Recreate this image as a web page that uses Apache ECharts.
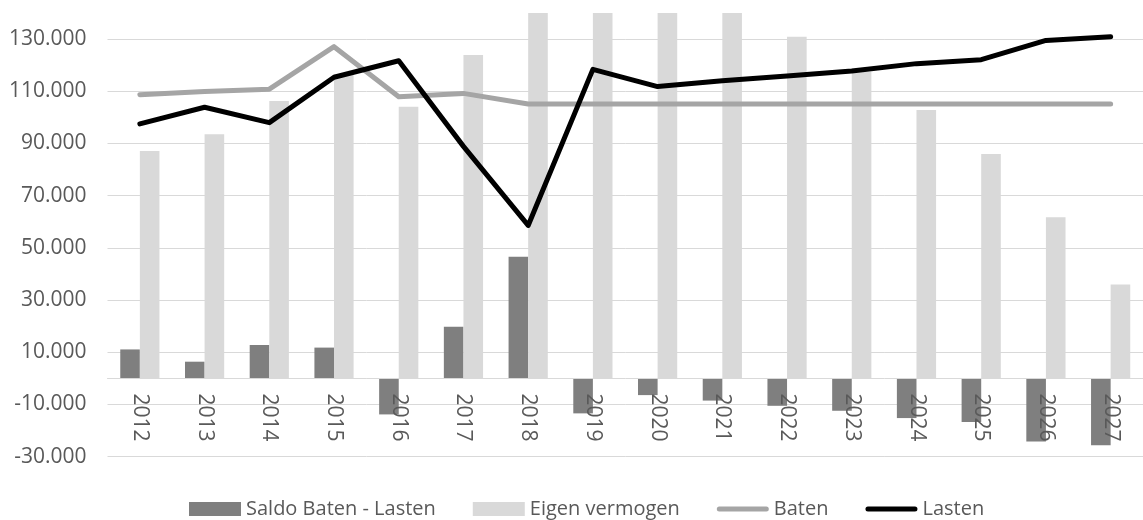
<!DOCTYPE html>
<html lang="nl">
<head>
    <meta charset="UTF-8">
    <title>Baten en lasten</title>
    <style>
        *{
            margin: 0;
            padding: 0;
        }
        html, body{
            background: #ffffff;
        }
        .main{
            width: 1143px;
            height: 520px;
        }
    </style>
    <script src="https://cdn.jsdelivr.net/npm/echarts@6/dist/echarts.min.js"></script>
</head>
<body>
<div class="main"></div>
<script>
    // jaren en reeksen
    let years = ['2012','2013','2014','2015','2016','2017','2018','2019','2020','2021','2022','2023','2024','2025','2026','2027'];
    let saldo = [11100, 6400, 12800, 11800, -13800, 19800, 46600, -13400, -6400, -8500, -10500, -12400, -15200, -16700, -24200, -25600];
    let eigenVermogen = [87100, 93500, 106300, 116500, 104100, 123900, 170500, 157100, 150700, 142200, 130900, 117500, 102800, 86000, 61700, 36000];
    let baten = [108700, 109900, 110800, 127100, 107900, 109200, 105100, 105100, 105100, 105100, 105100, 105100, 105100, 105100, 105100, 105100];
    let lasten = [97500, 103900, 98000, 115400, 121700, 88900, 58600, 118400, 111800, 114000, 115900, 117800, 120600, 122100, 129500, 130900];

    let textColor = '#595959';
    let font = '"Open Sans", "Liberation Sans", sans-serif';
    let yMin = -30000, yMax = 140000;
    let gridTop = 13, gridHeight = 443.7;

    // 130000 -> 130.000
    function fmt(v){
        let s = Math.abs(v).toString().replace(/\B(?=(\d{3})+(?!\d))/g, '.');
        return (v < 0 ? '-' : '') + s;
    }

    let main = document.querySelector('.main');
    let chart = echarts.init(main);

    let gridColors = [];
    for (let i = 0; i < 9; i++) gridColors.push('#d9d9d9');
    gridColors.push('rgba(0,0,0,0)');

    // categorie-as op de nullijn leggen
    let zeroOffset = -gridHeight * (0 - yMin) / (yMax - yMin);

    let lineIcon = 'path://M2.5,0 L49.5,0 A2.5,2.5 0 0 1 49.5,5 L2.5,5 A2.5,2.5 0 0 1 2.5,0 Z';

    let option = {
        backgroundColor: '#ffffff',
        animation: false,
        grid: {
            left: 107.5,
            top: gridTop,
            width: 1046,
            height: gridHeight
        },
        legend: {
            left: 184,
            top: 494,
            itemWidth: 52,
            itemHeight: 14,
            itemGap: 37,
            textStyle: {
                color: textColor,
                fontSize: 20,
                fontFamily: font
            },
            data: [
                {name: 'Saldo Baten - Lasten', icon: 'rect'},
                {name: 'Eigen vermogen', icon: 'rect'},
                {name: 'Baten', icon: lineIcon},
                {name: 'Lasten', icon: lineIcon}
            ]
        },
        xAxis: {
            type: 'category',
            data: years,
            z: 3,
            offset: zeroOffset,
            axisLine: {
                onZero: false,
                lineStyle: {color: '#d9d9d9', width: 1}
            },
            axisTick: {show: false},
            axisLabel: {
                rotate: -90,
                margin: 15,
                color: textColor,
                fontSize: 21,
                fontFamily: font
            }
        },
        yAxis: {
            type: 'value',
            min: yMin,
            max: yMax,
            interval: 20000,
            axisLine: {show: false},
            axisTick: {show: false},
            axisLabel: {
                margin: 21,
                color: textColor,
                fontSize: 21,
                fontFamily: font,
                showMaxLabel: false,
                formatter: function (v) {
                    return v >= yMax ? '' : fmt(v);
                }
            },
            splitLine: {
                lineStyle: {color: gridColors, width: 1}
            }
        },
        series: [
            {
                name: 'Saldo Baten - Lasten',
                type: 'bar',
                data: saldo,
                barWidth: 19.6,
                barGap: '0%',
                itemStyle: {color: '#7f7f7f'}
            },
            {
                name: 'Eigen vermogen',
                type: 'bar',
                data: eigenVermogen,
                barWidth: 19.6,
                barGap: '0%',
                clip: true,
                itemStyle: {color: '#d9d9d9'}
            },
            {
                name: 'Baten',
                type: 'line',
                data: baten,
                symbol: 'none',
                z: 4,
                itemStyle: {color: '#a5a5a5'},
                lineStyle: {color: '#a5a5a5', width: 5, cap: 'round', join: 'round'}
            },
            {
                name: 'Lasten',
                type: 'line',
                data: lasten,
                symbol: 'none',
                z: 5,
                itemStyle: {color: '#000000'},
                lineStyle: {color: '#000000', width: 5, cap: 'round', join: 'round'}
            }
        ]
    };
    chart.setOption(option);
</script>
</body>
</html>
